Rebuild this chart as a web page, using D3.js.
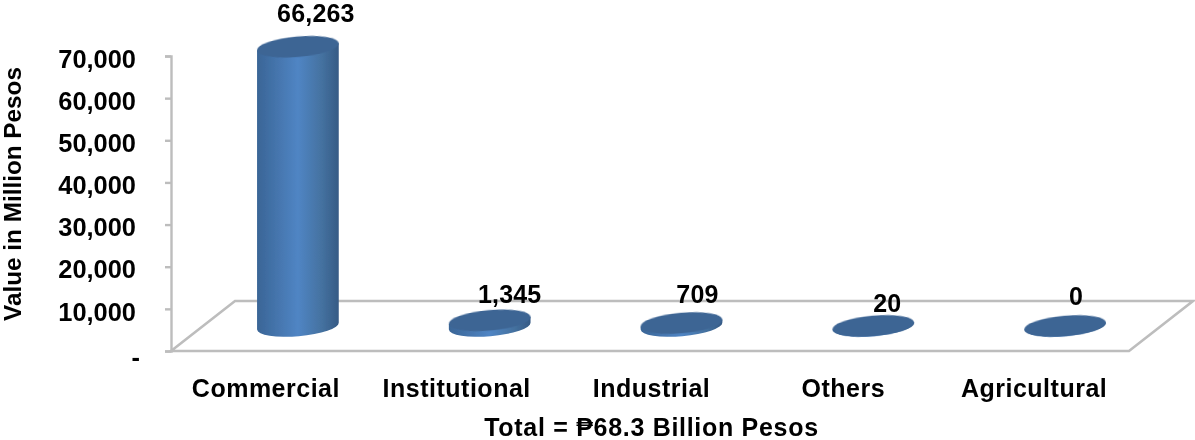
<!DOCTYPE html>
<html><head><meta charset="utf-8">
<script src="https://cdn.jsdelivr.net/npm/d3@7"></script>
<style>html,body{margin:0;padding:0;background:#fff}svg{display:block}text{font-family:"Liberation Sans",Arial,sans-serif;font-weight:bold;fill:#000}</style>
</head><body><svg id="c" width="1195" height="440"></svg>
<script>
const categories=["Commercial","Institutional","Industrial","Others","Agricultural"];
const values=[66263,1345,709,20,0];
const valueLabels=["66,263","1,345","709","20","0"];
const yTicks=[0,10000,20000,30000,40000,50000,60000,70000];
const yTitle="Value in Million Pesos";
const footer="Total = ₱68.3 Billion Pesos";

(function(){
const svg=d3.select("#c");
const defs=svg.append("defs");
const y=d3.scaleLinear().domain([0,70000]).range([351,56]);
const x=d3.scaleBand().domain(categories).range([202,1161]).padding(0);
const depth=64, floorH=50, baseY=326, rx=41, ry=10.3, tilt=-5;
const labelDX=[18,20,16,14,11], labelDY=[-32,-25,-28,-22,-29];
const catDX=[-32,-33,-30,-30,-31];

const g=defs.append("linearGradient").attr("id","cyl").attr("x1",0).attr("x2",1).attr("y1",0).attr("y2",0);
[[0,"#3a6596"],[0.5,"#5085c4"],[0.8,"#44719f"],[1,"#365a85"]].forEach(d=>g.append("stop").attr("offset",d[0]).attr("stop-color",d[1]));
const fb=defs.append("filter").attr("id","soft").attr("filterUnits","userSpaceOnUse").attr("x",-500).attr("y",-500).attr("width",2200).attr("height",1400);
fb.append("feGaussianBlur").attr("stdDeviation",0.7);
const ft=defs.append("filter").attr("id","softT").attr("filterUnits","userSpaceOnUse").attr("x",-500).attr("y",-500).attr("width",2200).attr("height",1400);
ft.append("feGaussianBlur").attr("stdDeviation",0.4);

// floor and axis
const x0=171,x1=1129;
const axisG=svg.append("g").attr("fill","none").attr("stroke","#bdbdbd").attr("stroke-width",2.6).attr("filter","url(#soft)");
const y0=y(0);
axisG.append("path").attr("d",`M${x0},${y0}L${x0+depth},${y0-floorH}L${x1+depth},${y0-floorH}L${x1},${y0}Z`);
const axis=d3.axisLeft(y).tickValues(yTicks).tickSize(6).tickFormat("");
const ag=svg.append("g").attr("transform",`translate(${x0},0)`).attr("filter","url(#soft)").call(axis);
ag.selectAll("path,line").attr("stroke","#bdbdbd").attr("stroke-width",2.4);

// y tick labels
svg.append("g").attr("filter","url(#softT)").selectAll("text").data(yTicks).join("text")
 .attr("x",d=>d===0?140:136).attr("y",d=>y(d)+(d===0?8:5)).attr("text-anchor","end").attr("dominant-baseline","middle")
 .attr("font-size",25.4).text(d=>d===0?"-":d3.format(",")(d));

// cylinders
const topY=v=>baseY-(y(0)-y(v));
const rad=tilt*Math.PI/180;
const bars=svg.append("g").selectAll("g").data(categories.map((c,i)=>({c,v:values[i],i}))).join("g");
bars.append("path").attr("fill","url(#cyl)").attr("d",d=>{
  const cx=x(d.c)+x.bandwidth()/2, t=topY(d.v);
  const dx=rx*Math.cos(rad), dy=rx*Math.sin(rad);
  return `M${cx-dx},${t-dy}L${cx-dx},${baseY-dy}A${rx},${ry} ${tilt} 0 0 ${cx+dx},${baseY+dy}L${cx+dx},${t+dy}Z`;
}).attr("filter","url(#softT)");
bars.append("ellipse").attr("fill","#3d6594").attr("filter","url(#softT)")
 .attr("rx",rx).attr("ry",ry)
 .attr("transform",d=>`translate(${x(d.c)+x.bandwidth()/2},${topY(d.v)}) rotate(${tilt})`);

// value labels
svg.append("g").attr("filter","url(#softT)").selectAll("text").data(valueLabels).join("text")
 .attr("x",(d,i)=>x(categories[i])+x.bandwidth()/2+labelDX[i])
 .attr("y",(d,i)=>topY(values[i])+labelDY[i]+1).attr("text-anchor","middle").attr("dominant-baseline","middle")
 .attr("font-size",25).attr("letter-spacing",0.2).text(d=>d);

// category labels
svg.append("g").attr("filter","url(#softT)").selectAll("text").data(categories).join("text")
 .attr("x",(d,i)=>x(d)+x.bandwidth()/2+catDX[i]).attr("y",390).attr("text-anchor","middle").attr("dominant-baseline","middle")
 .attr("font-size",25).attr("letter-spacing",0.5).text(d=>d);

svg.append("text").attr("x",651.5).attr("y",429).attr("text-anchor","middle").attr("dominant-baseline","middle")
 .attr("font-size",25).attr("letter-spacing",0.7).attr("filter","url(#softT)").text(footer);
svg.append("text").attr("transform","translate(15,194) rotate(-90)").attr("text-anchor","middle").attr("dominant-baseline","middle")
 .attr("font-size",24.3).attr("filter","url(#softT)").text(yTitle);
})();
</script></body></html>
